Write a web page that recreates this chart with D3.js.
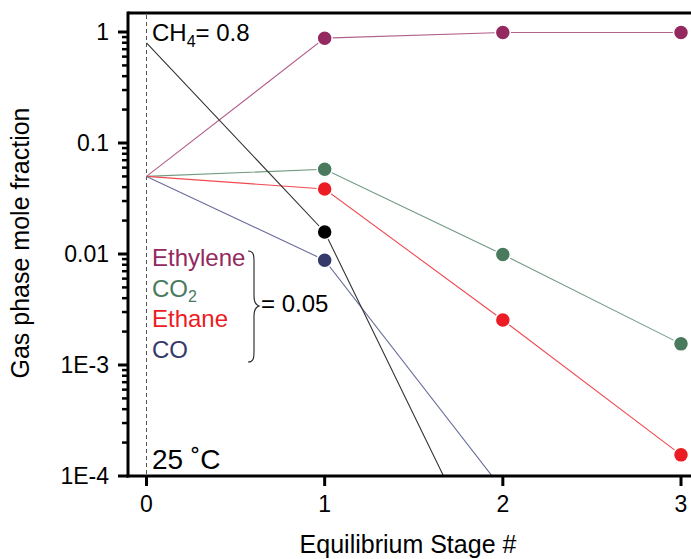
<!DOCTYPE html>
<html><head><meta charset="utf-8">
<script src="https://cdn.jsdelivr.net/npm/d3@7"></script>
<style>body{margin:0;background:#fff}svg{display:block;font-family:"Liberation Sans",Arial,Helvetica,sans-serif}</style>
</head><body><svg id="c" width="691" height="559"></svg>
<script>
const stages = [0, 1, 2, 3];
const xTickLabels = ["0", "1", "2", "3"];
const yTickValues = [1, 0.1, 0.01, 0.001, 0.0001];
const yTickLabels = ["1", "0.1", "0.01", "1E-3", "1E-4"];
const seriesNames = ["Ethylene", "CO2", "Ethane", "CO", "CH4"];
const ethylene = [0.05, 0.88, 0.99, 0.99];
const co2 = [0.05, 0.058, 0.0099, 0.00155];
const ethane = [0.05, 0.0385, 0.00254, 0.000155];
const co = [0.05, 0.0088, 0.000075];
const ch4 = [0.8, 0.0158, 0.000008];
const colors = {Ethylene:"#93295f", CO2:"#4a7a5e", Ethane:"#ec1c24", CO:"#363a6a", CH4:"#000000"};
const lineColors = {Ethylene:"#b0608a", CO2:"#6f9a80", Ethane:"#f04a50", CO:"#6a6e9c", CH4:"#333333"};

const svg = d3.select("#c");
const x = d3.scaleLinear().domain([0, 3]).range([146.5, 681]);
const y = d3.scaleLog().domain([1e-4, 1]).range([476, 32]);
const pLeft = 128, pTop = 13, pBottom = 476, pRight = 691;

svg.append("defs").append("clipPath").attr("id","clip").append("rect")
  .attr("x", pLeft).attr("y", pTop).attr("width", pRight-pLeft).attr("height", pBottom-pTop);

// dashed vertical at stage 0
svg.append("line").attr("x1", x(0)).attr("x2", x(0)).attr("y1", pTop+2).attr("y2", pBottom)
  .attr("stroke","#555").attr("stroke-width",1).attr("stroke-dasharray","4,3");

const data = {Ethylene: ethylene, CO2: co2, Ethane: ethane, CO: co, CH4: ch4};
const line = d3.line().x((d,i)=>x(stages[i])).y(d=>y(d));
const g = svg.append("g").attr("clip-path","url(#clip)");
seriesNames.forEach(n=>{
  g.append("path").attr("d", line(data[n])).attr("fill","none")
   .attr("stroke", lineColors[n]).attr("stroke-width",1.1);
});
seriesNames.forEach(n=>{
  data[n].forEach((v,i)=>{
    if (i===0) return;
    if (v < 1e-4) return;
    svg.append("circle").attr("cx", x(stages[i])).attr("cy", y(v)).attr("r", 7.5)
      .attr("fill", colors[n]).attr("stroke","#fff").attr("stroke-width",1.5);
  });
});

// axes
const ax = svg.append("g");
ax.append("line").attr("x1", pLeft).attr("x2", pRight).attr("y1", pTop).attr("y2", pTop).attr("stroke","#000").attr("stroke-width",3);
ax.append("line").attr("x1", pLeft).attr("x2", pLeft).attr("y1", pTop-1.5).attr("y2", pBottom+1.5).attr("stroke","#000").attr("stroke-width",3);
ax.append("line").attr("x1", pLeft-1.5).attr("x2", pRight).attr("y1", pBottom).attr("y2", pBottom).attr("stroke","#000").attr("stroke-width",3);

// y ticks (major + minor)
for (let d = -4; d <= 0; d++) {
  for (let k = 1; k <= 9; k++) {
    const v = k * Math.pow(10, d);
    if (d === 0 && k > 1) continue;
    const yy = y(v);
    ax.append("line").attr("x1", pLeft - (k===1?10:6)).attr("x2", pLeft).attr("y1", yy).attr("y2", yy)
      .attr("stroke","#000").attr("stroke-width", k===1?3:2.5);
  }
}
yTickValues.forEach((v,i)=>{
  ax.append("text").attr("x", 109).attr("y", y(v)).attr("dy","0.36em").attr("text-anchor","end")
    .attr("font-size",23).text(yTickLabels[i]);
});
stages.forEach((s,i)=>{
  ax.append("line").attr("x1", x(s)).attr("x2", x(s)).attr("y1", pBottom).attr("y2", pBottom+10)
    .attr("stroke","#000").attr("stroke-width",3);
  ax.append("text").attr("x", x(s)).attr("y", 512).attr("text-anchor","middle")
    .attr("font-size",23).text(xTickLabels[i]);
});

// axis titles
svg.append("text").attr("x", 408).attr("y", 553).attr("text-anchor","middle").attr("font-size",25)
  .text("Equilibrium Stage #");
svg.append("text").attr("transform","translate(29,243) rotate(-90)").attr("text-anchor","middle").attr("font-size",25)
  .text("Gas phase mole fraction");

// annotations
const ch = svg.append("text").attr("x",152).attr("y",41).attr("font-size",24);
ch.append("tspan").text("CH");
ch.append("tspan").attr("font-size",16).attr("dy",6).text("4");
ch.append("tspan").attr("dy",-6).text("= 0.8");

svg.append("text").attr("x",152).attr("y",469).attr("font-size",28).text("25 ˚C");

const legendY = [266, 297, 327, 358];
const legNames = ["Ethylene","CO2","Ethane","CO"];
legNames.forEach((n,i)=>{
  const t = svg.append("text").attr("x",152).attr("y",legendY[i]).attr("font-size",24).attr("fill",colors[n]);
  if (n==="CO2") { t.append("tspan").text("CO"); t.append("tspan").attr("font-size",16).attr("dy",5).text("2"); }
  else t.text(n);
});
// brace
svg.append("path").attr("d","M248,251 C254,251 254,256 254,262 L254,296 C254,302 256,305 259,306 C256,307 254,310 254,316 L254,351 C254,357 254,362 248,362")
  .attr("fill","none").attr("stroke","#222").attr("stroke-width",1.1);
svg.append("text").attr("x",261).attr("y",312).attr("font-size",24).text("= 0.05");
</script></body></html>
